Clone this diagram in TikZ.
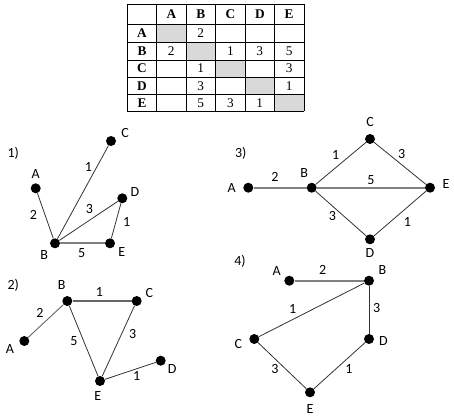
\documentclass[tikz,border=0pt]{standalone}
\usepackage{fontspec}
\setmainfont{Carlito}
\newfontfamily\tnr{Liberation Serif}
\begin{document}
\begin{tikzpicture}[x=1pt,y=-1pt,
  dot/.style={circle,fill=black,inner sep=0pt,minimum size=10pt},
  lbl/.style={inner sep=0pt,font=\fontsize{14}{16}\selectfont},
  thin/.style={draw=black!80,line width=0.8pt},
  thick/.style={draw=black!50,line width=2pt},
  cell/.style={inner sep=0pt,font=\tnr\fontsize{13.3}{15}\selectfont},
  hcell/.style={inner sep=0pt,font=\tnr\bfseries\fontsize{13.3}{15}\selectfont}]
\useasboundingbox (0,0) rectangle (454,418);
% ---------- table ----------
\def\xa{127.3}\def\xb{156.7}\def\xc{186}\def\xd{215.7}\def\xe{245.3}\def\xf{274.3}\def\xg{304}
\def\ya{4}\def\yb{24}\def\yc{42.3}\def\yd{60}\def\ye{77.3}\def\yf{94.7}\def\yg{111}
\fill[black!15] (\xb,\yb) rectangle (\xc,\yc);
\fill[black!15] (\xc,\yc) rectangle (\xd,\yd);
\fill[black!15] (\xd,\yd) rectangle (\xe,\ye);
\fill[black!15] (\xe,\ye) rectangle (\xf,\yf);
\fill[black!15] (\xf,\yf) rectangle (\xg,\yg);
\foreach \x in {\xa,\xb,\xc,\xd,\xe,\xf,\xg} \draw[line width=0.8pt] (\x,\ya) -- (\x,\yg);
\foreach \y in {\ya,\yb,\yc,\yd,\ye,\yf,\yg} \draw[line width=0.8pt] (\xa,\y) -- (\xg,\y);
% header
\node[hcell] (hA) at (171.3,14) {A};
\node[hcell] (hB) at (200.8,14) {B};
\node[hcell] (hC) at (230.5,14) {C};
\node[hcell] (hD) at (259.8,14) {D};
\node[hcell] (hE) at (289.1,14) {E};
\node[hcell] (rA) at (142,33.1) {A};
\node[hcell] (rB) at (142,51.1) {B};
\node[hcell] (rC) at (142,68.6) {C};
\node[hcell] (rD) at (142,86) {D};
\node[hcell] (rE) at (142,102.8) {E};
\node[cell] (tAB) at (200.8,33.1) {2};
\node[cell] (tBA) at (171.3,51.1) {2};
\node[cell] (tBC) at (230.5,51.1) {1};
\node[cell] (tBD) at (259.8,51.1) {3};
\node[cell] (tBE) at (289.1,51.1) {5};
\node[cell] (tCB) at (200.8,68.6) {1};
\node[cell] (tCE) at (289.1,68.6) {3};
\node[cell] (tDB) at (200.8,86) {3};
\node[cell] (tDE) at (289.1,86) {1};
\node[cell] (tEB) at (200.8,102.8) {5};
\node[cell] (tEC) at (230.5,102.8) {3};
\node[cell] (tED) at (259.8,102.8) {1};
% ---------- graph 1 ----------
\node[lbl] (n1) at (13.3,153.3) {1)};
\node[dot] (aA) at (35.7,188.3) {};
\node[dot] (aB) at (55,243.3) {};
\node[dot] (aC) at (111,141) {};
\node[dot] (aD) at (122.3,198.3) {};
\node[dot] (aE) at (110,243.3) {};
\node[lbl] (laA) at (35.7,174.3) {A};
\node[lbl] (laB) at (44.3,255) {B};
\node[lbl] (laC) at (125,133.3) {C};
\node[lbl] (laD) at (135,192.3) {D};
\node[lbl] (laE) at (121.7,252.3) {E};
\draw[thin] (aA) -- (aB);
\draw[thin] (aB) -- (aC);
\draw[thin] (aB) -- (aD);
\draw[thin] (aD) -- (aE);
\draw[thick] (aB) -- (aE);
\node[lbl] (waBC) at (88.3,166.7) {1};
\node[lbl] (waAB) at (33.3,215) {2};
\node[lbl] (waBD) at (89.3,209.3) {3};
\node[lbl] (waDE) at (126.7,221.7) {1};
\node[lbl] (waBE) at (81.7,253.3) {5};
% ---------- graph 3 ----------
\node[lbl] (n3) at (240.7,153.3) {3)};
\node[dot] (cA) at (248.3,187.7) {};
\node[dot] (cB) at (311.7,187.7) {};
\node[dot] (cC) at (370,139) {};
\node[dot] (cD) at (370,239.3) {};
\node[dot] (cE) at (430,187.7) {};
\node[lbl] (lcA) at (231.7,187.7) {A};
\node[lbl] (lcB) at (304.3,173.3) {B};
\node[lbl] (lcC) at (370,121.7) {C};
\node[lbl] (lcD) at (370,253) {D};
\node[lbl] (lcE) at (446,184.3) {E};
\draw[thick] (cA) -- (cB);
\draw[thick] (cB) -- (cE);
\draw[thin] (cB) -- (cC);
\draw[thin] (cC) -- (cE);
\draw[thin] (cB) -- (cD);
\draw[thin] (cD) -- (cE);
\node[lbl] (wcAB) at (275,176.7) {2};
\node[lbl] (wcBC) at (335.7,155) {1};
\node[lbl] (wcCE) at (401.7,154) {3};
\node[lbl] (wcBE) at (371,180.3) {5};
\node[lbl] (wcBD) at (332.3,216) {3};
\node[lbl] (wcDE) at (407.3,222.3) {1};
% ---------- graph 2 ----------
\node[lbl] (n2) at (13.3,285) {2)};
\node[dot] (bA) at (24.3,341) {};
\node[dot] (bB) at (67.3,301) {};
\node[dot] (bC) at (136.7,301) {};
\node[dot] (bD) at (160.7,360.7) {};
\node[dot] (bE) at (100,381) {};
\node[lbl] (lbA) at (10,349) {A};
\node[lbl] (lbB) at (61.7,285) {B};
\node[lbl] (lbC) at (149.3,292.7) {C};
\node[lbl] (lbD) at (172.3,369.3) {D};
\node[lbl] (lbE) at (97.7,395.7) {E};
\draw[draw=black!60,line width=0.9pt] (bA) -- (bB);
\draw[draw=black!60,line width=1.2pt] (bB) -- (bC);
\draw[thin] (bB) -- (bE);
\draw[thin] (bC) -- (bE);
\draw[thin] (bE) -- (bD);
\node[lbl] (wbBC) at (99.3,291.7) {1};
\node[lbl] (wbAB) at (40,313.3) {2};
\node[lbl] (wbBE) at (74,340.7) {5};
\node[lbl] (wbCE) at (132.7,334.3) {3};
\node[lbl] (wbED) at (136.7,376) {1};
% ---------- graph 4 ----------
\node[lbl] (n4) at (240,261.7) {4)};
\node[dot] (dA) at (289.3,280.7) {};
\node[dot] (dB) at (369,280.7) {};
\node[dot] (dC) at (254.3,339) {};
\node[dot] (dD) at (369,339) {};
\node[dot] (dE) at (310,392.3) {};
\node[lbl] (ldA) at (276.7,271) {A};
\node[lbl] (ldB) at (382.3,270) {B};
\node[lbl] (ldC) at (238.3,344) {C};
\node[lbl] (ldD) at (383.3,340.7) {D};
\node[lbl] (ldE) at (310,409) {E};
\draw[thick] (dA) -- (dB);
\draw[thin] (dB) -- (dC);
\draw[thin] (dB) -- (dD);
\draw[thin] (dC) -- (dE);
\draw[thin] (dD) -- (dE);
\node[lbl] (wdAB) at (322.7,270) {2};
\node[lbl] (wdBC) at (292.7,309) {1};
\node[lbl] (wdBD) at (376.7,307.7) {3};
\node[lbl] (wdCE) at (275,369) {3};
\node[lbl] (wdDE) at (349,369) {1};
\end{tikzpicture}
\end{document}
